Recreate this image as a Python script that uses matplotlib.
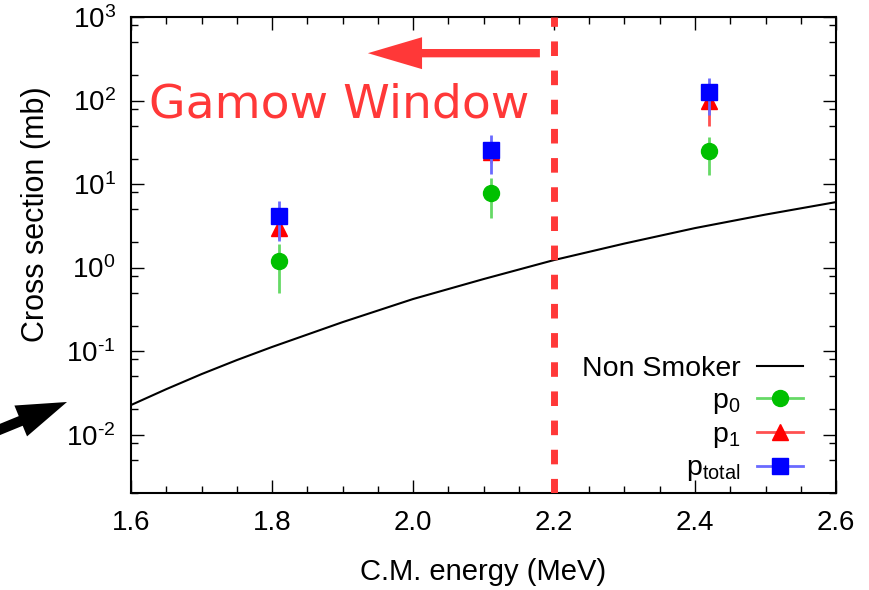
import numpy as np
import matplotlib
matplotlib.use("Agg")
import matplotlib.pyplot as plt
from matplotlib.ticker import (MultipleLocator, LogLocator, FormatStrFormatter,
                               NullFormatter, FuncFormatter)
from matplotlib.lines import Line2D

# ---------------- data ----------------
smoker_E = [1.6, 1.65, 1.7, 1.75, 1.8, 1.9, 2.0, 2.1, 2.2, 2.3, 2.4, 2.5, 2.6]
smoker_xs = [0.0226, 0.035, 0.053, 0.078, 0.112, 0.222, 0.42, 0.728, 1.23, 1.94, 2.97, 4.31, 6.08]

E_data = [1.81, 2.11, 2.42]
p0_y = [1.2, 7.8, 25.0]
p0_lo = [0.5, 3.9, 12.8]
p0_hi = [1.9, 11.8, 36.5]
p1_y = [3.0, 24.0, 100.0]
p1_lo = [2.2, 18.0, 49.0]
p1_hi = [4.0, 30.0, 150.0]
pt_y = [4.1, 25.5, 126.0]
pt_lo = [2.07, 13.2, 67.0]
pt_hi = [6.25, 38.6, 186.0]

gamow_edge = 2.2
labels = ["Non Smoker", "p$_0$", "p$_1$", r"p$_{\mathrm{total}}$"]

# ---------------- style ----------------
plt.rcParams['font.family'] = ['Liberation Sans', 'DejaVu Sans']
plt.rcParams['mathtext.fontset'] = 'custom'
plt.rcParams['mathtext.rm'] = 'Liberation Sans'
plt.rcParams['mathtext.it'] = 'Liberation Sans:italic'
plt.rcParams['mathtext.bf'] = 'Liberation Sans:bold'
plt.rcParams['axes.unicode_minus'] = False

RED = '#ff3838'

fig = plt.figure(figsize=(8.7, 5.9), dpi=100)
ax = fig.add_axes([131 / 870, 1 - 493 / 590, 705 / 870, 476 / 590])

ax.set_yscale('log')
ax.set_xlim(1.6, 2.6)
ax.set_ylim(0.002, 1000)

# theory curve
ax.plot(smoker_E, smoker_xs, color='black', lw=1.5, zorder=3)


def asym(y, lo, hi):
    y = np.asarray(y)
    return [y - np.asarray(lo), np.asarray(hi) - y]


ax.errorbar(E_data, p0_y, yerr=asym(p0_y, p0_lo, p0_hi), fmt='o', ms=11.5,
            color='#00c000', ecolor='#66d966', elinewidth=2, capsize=0, zorder=4)
ax.errorbar(E_data, p1_y, yerr=asym(p1_y, p1_lo, p1_hi), fmt='^', ms=11.5,
            color='#ff0000', ecolor='#ff5050', elinewidth=2, capsize=0, zorder=5)
ax.errorbar(E_data, pt_y, yerr=asym(pt_y, pt_lo, pt_hi), fmt='s', ms=11.5,
            color='#0000ff', ecolor='#6a6aff', elinewidth=2, capsize=0, zorder=6)

# Gamow window dashed line
ax.axvline(gamow_edge, color=RED, lw=5, linestyle=(0, (2.1, 2.1)), zorder=7)

# axes style
for s in ax.spines.values():
    s.set_linewidth(1.5)
ax.xaxis.set_major_locator(MultipleLocator(0.2))
ax.xaxis.set_minor_locator(MultipleLocator(0.05))
ax.xaxis.set_major_formatter(FormatStrFormatter('%.1f'))
ax.yaxis.set_major_locator(LogLocator(base=10, numticks=20))
ax.yaxis.set_minor_locator(LogLocator(base=10, subs=(2.0, 5.0, 8.0), numticks=20))
ax.yaxis.set_minor_formatter(NullFormatter())


def pow_fmt(v, pos):
    e = int(round(np.log10(v)))
    return '10$^{\\text{%d}}$' % e


ax.yaxis.set_major_formatter(FuncFormatter(pow_fmt))
ax.tick_params(which='both', direction='in', top=True, right=True, width=1.0,
               labelsize=20)
ax.tick_params(which='major', length=9.5)
ax.tick_params(which='minor', length=5)
ax.tick_params(axis='x', pad=12)
ax.tick_params(axis='y', pad=11)

ax.set_xlabel('C.M. energy (MeV)', fontsize=21, labelpad=16)
ax.set_ylabel('Cross section (mb)', fontsize=22)
ax.yaxis.set_label_coords(-0.113, 0.585)

# Gamow window text & arrow
ax.text(0.025, 0.788, 'Gamow Window', transform=ax.transAxes, ha='left', va='baseline',
        fontsize=34, color=RED, family='DejaVu Sans', zorder=8)
ax.annotate('', xy=(0.336, 0.924), xytext=(0.580, 0.924), xycoords='axes fraction',
            textcoords='axes fraction',
            arrowprops=dict(arrowstyle='simple,head_length=3.9,head_width=2.3,tail_width=0.6',
                            mutation_scale=10, color=RED, lw=0, shrinkA=0, shrinkB=0),
            annotation_clip=False, zorder=8)

# black arrow at left
ax.annotate('', xy=(67 / 870, 1 - 402 / 590), xytext=(-0.01, 1 - 433 / 590),
            xycoords='figure fraction', textcoords='figure fraction',
            arrowprops=dict(arrowstyle='simple,head_length=3.6,head_width=2.4,tail_width=0.75',
                            mutation_scale=10, color='black', lw=0, shrinkA=0, shrinkB=0),
            annotation_clip=False)

# legend (gnuplot style: text then sample)
handles = [
    Line2D([], [], color='black', lw=1.5),
    Line2D([], [], color='#66d966', lw=2, marker='o', ms=11.5, mfc='#00c000', mec='#00c000'),
    Line2D([], [], color='#ff5050', lw=2, marker='^', ms=11.5, mfc='#ff0000', mec='#ff0000'),
    Line2D([], [], color='#6a6aff', lw=2, marker='s', ms=11.5, mfc='#0000ff', mec='#0000ff'),
]
leg = ax.legend(handles, labels, loc='lower right', bbox_to_anchor=(0.953, 0.02),
                frameon=False, markerfirst=False, fontsize=20.5, handlelength=1.6,
                handletextpad=0.6, labelspacing=0.2, borderpad=0, borderaxespad=0)
for t in leg.get_texts():
    t.set_ha('right')

fig.savefig('out.png', dpi=100)
